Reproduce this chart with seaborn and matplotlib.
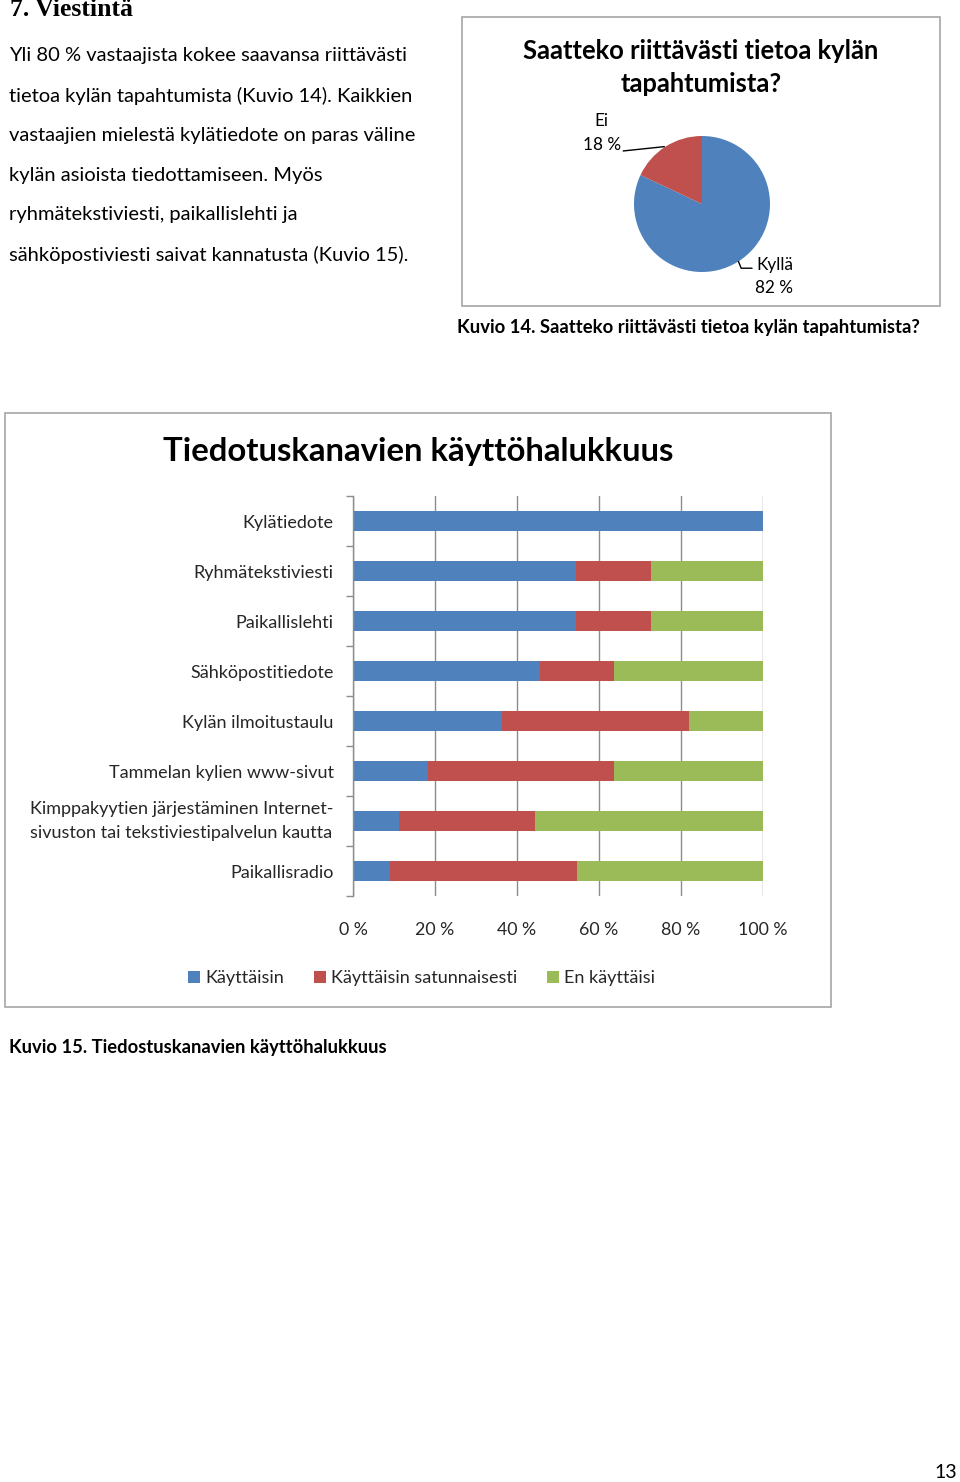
import matplotlib
matplotlib.use("Agg")
import matplotlib.pyplot as plt
from matplotlib.patches import Rectangle
from matplotlib.lines import Line2D
import numpy as np
import pandas as pd
import seaborn as sns

# ---------------- data ----------------
pie_labels = ["Kyllä", "Ei"]
pie_values = [82, 18]

categories = [
    "Kylätiedote",
    "Ryhmätekstiviesti",
    "Paikallislehti",
    "Sähköpostitiedote",
    "Kylän ilmoitustaulu",
    "Tammelan kylien www-sivut",
    "Kimppakyytien järjestäminen Internet-\nsivuston tai tekstiviestipalvelun kautta",
    "Paikallisradio",
]
kayttaisin = [100.0, 54.5, 54.5, 45.5, 36.4, 18.2, 11.1, 9.1]
satunnaisesti = [0.0, 18.2, 18.2, 18.2, 45.5, 45.5, 33.3, 45.5]
en_kayttaisi = [0.0, 27.3, 27.3, 36.4, 18.2, 36.4, 55.6, 45.5]
series_names = ["Käyttäisin", "Käyttäisin satunnaisesti", "En käyttäisi"]
x_ticks = [0, 20, 40, 60, 80, 100]
x_tick_labels = ["0 %", "20 %", "40 %", "60 %", "80 %", "100 %"]

BLUE = "#4F81BD"
RED = "#C0504D"
GREEN = "#9BBB59"

sns.set_theme(style="white")
plt.rcParams["font.family"] = ["Lato", "DejaVu Sans"]

W, H = 960, 1482
fig = plt.figure(figsize=(W / 100, H / 100), dpi=100)
fig.patch.set_facecolor("white")


def fx(x):
    return x / W


def fy(y):
    return 1 - y / H


def ftext(x, y, s, **kw):
    kw.setdefault("va", "center")
    kw.setdefault("ha", "left")
    kw.setdefault("color", "black")
    return fig.text(fx(x), fy(y), s, **kw)


# ---------------- page text ----------------
ftext(10, 16, "7. Viestintä", fontsize=18.5, fontweight="bold",
      family=["Liberation Serif", "DejaVu Serif"], va="baseline")
body = [
    "Yli 80 % vastaajista kokee saavansa riittävästi",
    "tietoa kylän tapahtumista (Kuvio 14). Kaikkien",
    "vastaajien mielestä kylätiedote on paras väline",
    "kylän asioista tiedottamiseen. Myös",
    "ryhmätekstiviesti, paikallislehti ja",
    "sähköpostiviesti saivat kannatusta (Kuvio 15).",
]
for i, line in enumerate(body):
    ftext(9, 56 + i * 39.7, line, fontsize=14.5)

# ---------------- pie chart box ----------------
fig.add_artist(Rectangle((fx(462), fy(306)), fx(940) - fx(462), fy(17) - fy(306),
                         transform=fig.transFigure, fill=False,
                         edgecolor="#a6a6a6", linewidth=1.2))
ftext(701, 51, "Saatteko riittävästi tietoa kylän", ha="center",
      fontsize=18.4, fontweight="bold")
ftext(701, 84, "tapahtumista?", ha="center", fontsize=18.4, fontweight="bold")

pax = fig.add_axes([fx(634), fy(272), fx(136), 136 / H])
wedges, _ = pax.pie(pie_values, colors=[BLUE, RED], startangle=90,
                    counterclock=False, radius=1.0,
                    wedgeprops=dict(linewidth=0))
pax.set_xlim(-1, 1)
pax.set_ylim(-1, 1)
pax.set_aspect("equal")
pax.axis("off")

# leader lines for pie labels
for w, lab, val in zip(wedges, pie_labels, pie_values):
    ang = np.deg2rad((w.theta1 + w.theta2) / 2)
    ex, ey = np.cos(ang), np.sin(ang)
    if ex < 0:
        pax.plot([ex * 1.02, ex - 0.63], [ey * 1.0, ey - 0.065],
                 color="black", lw=1.0, clip_on=False, solid_capstyle="butt")
    else:
        pax.plot([ex, ex + 0.04, ex + 0.2], [ey, ey - 0.1, ey - 0.1],
                 color="black", lw=1.0, clip_on=False)

ftext(601, 121, f"{pie_labels[1]}", ha="center", fontsize=12.3)
ftext(602, 145, f"{pie_values[1]} %", ha="center", fontsize=12.3)
ftext(756, 265, f"{pie_labels[0]}", ha="left", fontsize=12.3)
ftext(774, 288, f"{pie_values[0]} %", ha="center", fontsize=12.3)

ftext(457, 328, "Kuvio 14. Saatteko riittävästi tietoa kylän tapahtumista?",
      fontsize=13.3, fontweight="bold")

# ---------------- bar chart box ----------------
fig.add_artist(Rectangle((fx(5), fy(1007)), fx(831) - fx(5), fy(413) - fy(1007),
                         transform=fig.transFigure, fill=False,
                         edgecolor="#a6a6a6", linewidth=1.2))
ftext(418, 452, "Tiedotuskanavien käyttöhalukkuus", ha="center",
      fontsize=23.7, fontweight="bold")

ax = fig.add_axes([fx(353), fy(896), fx(410), 400 / H])
df = pd.DataFrame({
    "kanava": categories,
    "k": kayttaisin,
    "s": satunnaisesti,
    "e": en_kayttaisi,
})
df["c3"] = df["k"] + df["s"] + df["e"]
df["c2"] = df["k"] + df["s"]
df["c1"] = df["k"]

for col, colr in [("c3", GREEN), ("c2", RED), ("c1", BLUE)]:
    sns.barplot(data=df, y="kanava", x=col, color=colr, orient="h",
                width=0.4, ax=ax, saturation=1, linewidth=0, order=categories)

ax.set_xlim(0, 100)
ax.set_ylim(len(categories) - 0.5, -0.5)
ax.set_xticks(x_ticks)
ax.set_xticklabels(x_tick_labels, fontsize=12.8)
ax.set_xlabel("")
ax.set_ylabel("")
ax.tick_params(axis="x", length=0, pad=19)
ax.tick_params(axis="y", which="major", length=0, pad=14, labelsize=13)
ax.set_yticks(np.arange(-0.5, len(categories) + 0.5, 1), minor=True)
ax.tick_params(axis="y", which="minor", length=5, color="#8c8c8c", width=1,
               direction="out", left=True)
ax.xaxis.grid(True, color="#8c8c8c", linewidth=1)
ax.yaxis.grid(False)
ax.set_axisbelow(True)
for s in ["top", "right", "bottom"]:
    ax.spines[s].set_visible(False)
ax.spines["left"].set_color("#8c8c8c")
ax.spines["left"].set_linewidth(1)
for lab in ax.get_yticklabels():
    lab.set_ha("right")
    lab.set_multialignment("left")
    if "\n" in lab.get_text():
        lab.set_linespacing(1.55)
        lab.set_va("center")

handles = [Line2D([0], [0], marker="s", linestyle="none", markersize=8,
                  markerfacecolor=c, markeredgewidth=0)
           for c in [BLUE, RED, GREEN]]
fig.legend(handles, series_names, loc="center", ncol=3,
           bbox_to_anchor=(fx(422), fy(978)), frameon=False, fontsize=13,
           handlelength=0.6, handletextpad=0.3, columnspacing=1.7)

ftext(9, 1048, "Kuvio 15. Tiedostuskanavien käyttöhalukkuus", fontsize=13.2,
      fontweight="bold")

ftext(946, 1472, "13", ha="center", fontsize=14)

fig.savefig("out.png", dpi=100, facecolor="white")
